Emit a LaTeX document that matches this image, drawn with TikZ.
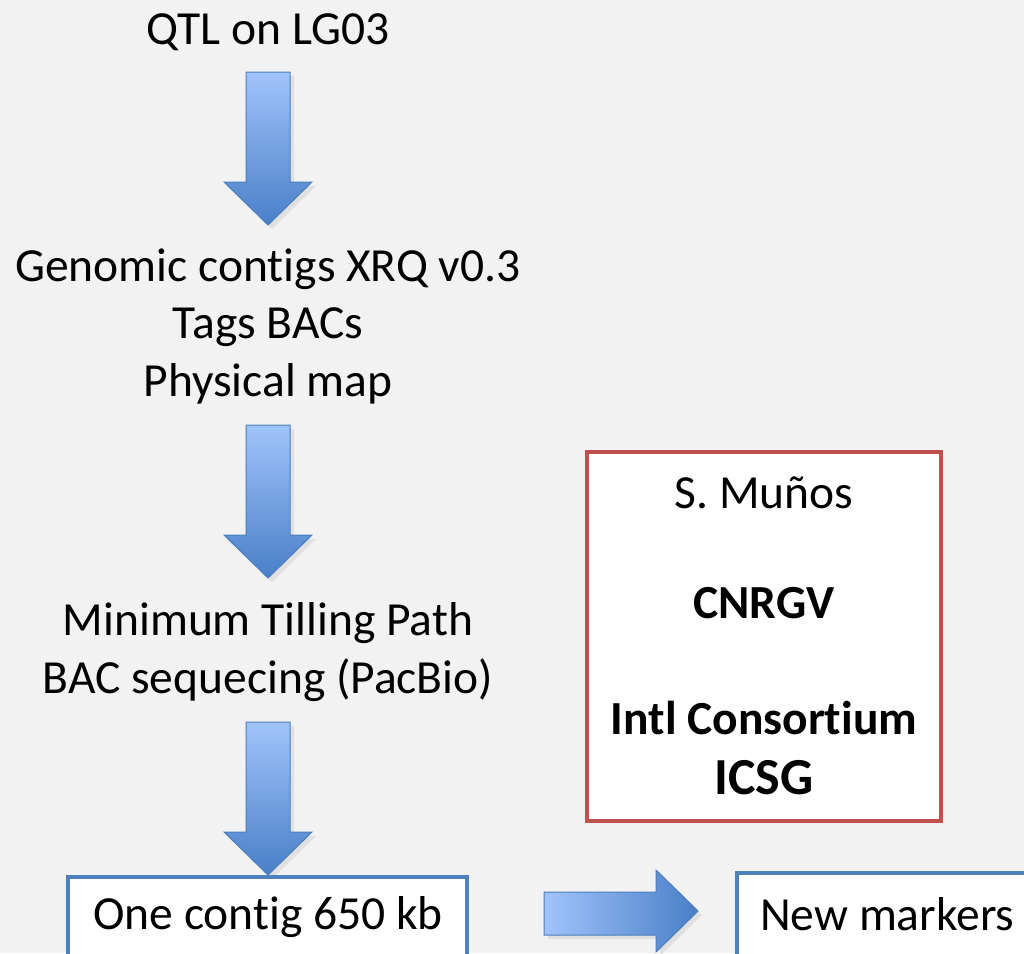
\documentclass[tikz,border=0pt]{standalone}
\usepackage{fontspec}
\setmainfont{Carlito}[RawFeature={-liga}]
\begin{document}
\begin{tikzpicture}[x=1pt,y=-1pt,
  txt/.style={inner sep=0pt, align=center, font=\fontsize{47.5}{57.5}\selectfont},
  boldtxt/.style={inner sep=0pt, font=\fontsize{47.5}{57}\selectfont\bfseries},
  bluebox/.style={draw=boxblue, line width=3.5pt, fill=white},
  blockarrow/.style={draw=arrowedge, line width=1pt, line join=miter},
  downfill/.style={top color=arrowlight, bottom color=arrowdark},
  rightfill/.style={left color=arrowlight, right color=arrowdark}]
\definecolor{bg}{HTML}{F2F2F2}
\definecolor{boxblue}{HTML}{4F81BD}
\definecolor{boxred}{HTML}{C0504D}
\definecolor{arrowlight}{HTML}{A0C4FA}
\definecolor{arrowdark}{HTML}{4A7FC9}
\definecolor{arrowedge}{HTML}{4A7EBB}
\fill[bg] (0,0) rectangle (1024,953);
\useasboundingbox (0,0) rectangle (1024,953);

% texts
\node[txt] (qtl) at (268,32) {QTL on LG03};
\node[txt] (genomic) at (268,326) {Genomic contigs XRQ v0.3\\Tags BACs\\Physical map};
\node[txt] (mtp) at (268,652) {Minimum Tilling Path\\BAC sequecing (PacBio)};

% down arrows
\foreach \t/\n in {72/a1,425/a2,722/a3}{
  \fill[black!12] (250,\t+4) -- (294,\t+4) -- (294,\t+114) -- (316,\t+114) -- (272,\t+157) -- (228,\t+114) -- (250,\t+114) -- cycle;
  \draw[blockarrow, downfill] (246,\t) coordinate (\n) -- (290,\t) -- (290,\t+110) -- (312,\t+110) -- (268,\t+153) -- (224,\t+110) -- (246,\t+110) -- cycle;
}

% bottom boxes
\draw[bluebox] (68,877) rectangle (467,970);
\node[txt] (contig) at (268,917) {One contig 650 kb};
\draw[bluebox] (737,873) rectangle (1040,970);
\node[txt, anchor=west] (markers) at (760,914) {New markers};

% right arrow
\fill[black!12] (548,896) -- (660,896) -- (660,874) -- (702,915) -- (660,956) -- (660,939) -- (548,939) -- cycle;
\draw[blockarrow, rightfill] (544,892) -- (656,892) -- (656,870) -- (698,911) -- (656,952) -- (656,935) -- (544,935) -- cycle;

% red box
\draw[draw=boxred, line width=3.5pt, fill=white] (587,452) rectangle (941,821);
\node[txt] (munos) at (764,493) {S. Muños};
\node[boldtxt] (cnrgv) at (764,603) {CNRGV};
\node[boldtxt] (intl) at (764,718) {Intl Consortium};
\node[inner sep=0pt, font=\fontsize{52}{60}\selectfont\bfseries] (icsg) at (764,778) {ICSG};
\end{tikzpicture}
\end{document}
